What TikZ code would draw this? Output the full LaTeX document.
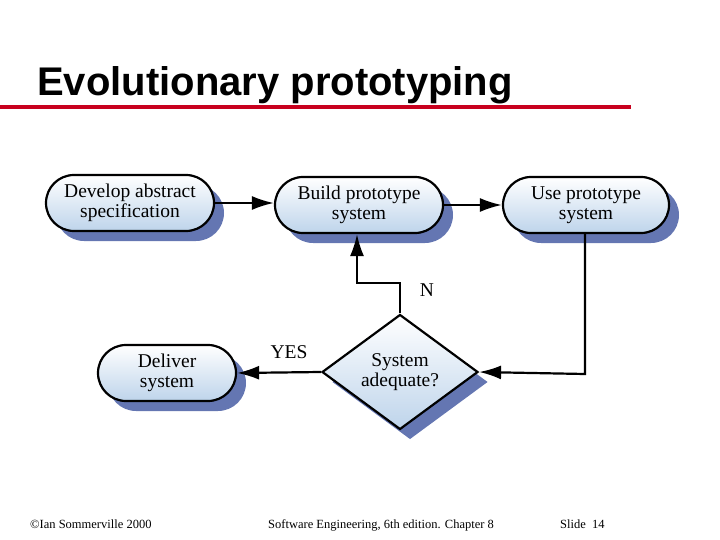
\documentclass[tikz,border=0pt]{standalone}
\usepackage{fontspec}
\setmainfont{Liberation Serif}
\newfontfamily\arialf{Liberation Sans}
\usetikzlibrary{shapes.geometric,shapes.misc,arrows.meta,shadows}
\definecolor{shad}{RGB}{100,118,178}
\definecolor{lb}{RGB}{190,212,235}
\definecolor{redl}{RGB}{200,0,30}
\begin{document}
\begin{tikzpicture}[x=1pt,y=-1pt,
  proc/.style={rounded rectangle,draw=black,line width=2.2pt,top color=white,bottom color=lb,
    minimum height=56pt,align=center,font=\fontsize{19.5}{20}\selectfont,inner xsep=4pt,
    drop shadow={shadow xshift=10pt,shadow yshift=-10pt,fill=shad,opacity=1}},
  dec/.style={diamond,draw=black,line width=2.2pt,top color=white,bottom color=lb,align=center,
    minimum width=156pt,minimum height=111pt,inner sep=0pt,font=\fontsize{19.5}{20}\selectfont,
    drop shadow={shadow xshift=10pt,shadow yshift=-10pt,fill=shad,opacity=1}},
  arr/.style={-{Latex[length=22pt,width=14pt]},line width=2.2pt},
  lab/.style={font=\fontsize{19.5}{20}\selectfont}]
\useasboundingbox (0,0) rectangle (720,540);
\node[font=\arialf\bfseries\fontsize{40}{40}\selectfont,anchor=base west,inner sep=0pt] (title) at (37,96) {Evolutionary prototyping};
\draw[redl,line width=4pt] (0,107) -- (631,107);
\node[proc,minimum width=176pt] (dev) at (130,203) {Develop abstract\\specification};
\node[proc,minimum width=176pt] (build) at (359,205) {Build prototype\\system};
\node[proc,minimum width=174pt] (use) at (586,205) {Use prototype\\system};
\node[proc,minimum width=146pt] (del) at (167,373) {Deliver\\system};
\node[dec] (sys) at (400,372) {System\\adequate?};
\coordinate (c1) at (585,374);
\coordinate (c2) at (400,283);
\coordinate (c3) at (357,283);
\draw[arr] (dev.east) -- (build.west |- dev.east);
\draw[arr] (build.east) -- (use.west);
\draw[arr] (use.south -| c1) -- (c1) -- (sys.east);
\draw[arr] (sys.north) -- (c2) -- (c3) -- (c3 |- build.south);
\draw[arr] (sys.west) -- (del.east);
\node[lab] (n) at (427,290) {N};
\node[lab] (yes) at (289,352) {YES};
\node[font=\fontsize{12.5}{13}\selectfont,anchor=base west,inner sep=0pt] (f1) at (30,528) {\textcopyright Ian Sommerville 2000};
\node[font=\fontsize{12.5}{13}\selectfont,anchor=base west,inner sep=0pt] (f2) at (268,528) {Software Engineering, 6th edition. Chapter 8};
\node[font=\fontsize{12.5}{13}\selectfont,anchor=base west,inner sep=0pt] (f3) at (560,528) {Slide\ \ 14};
\end{tikzpicture}
\end{document}
